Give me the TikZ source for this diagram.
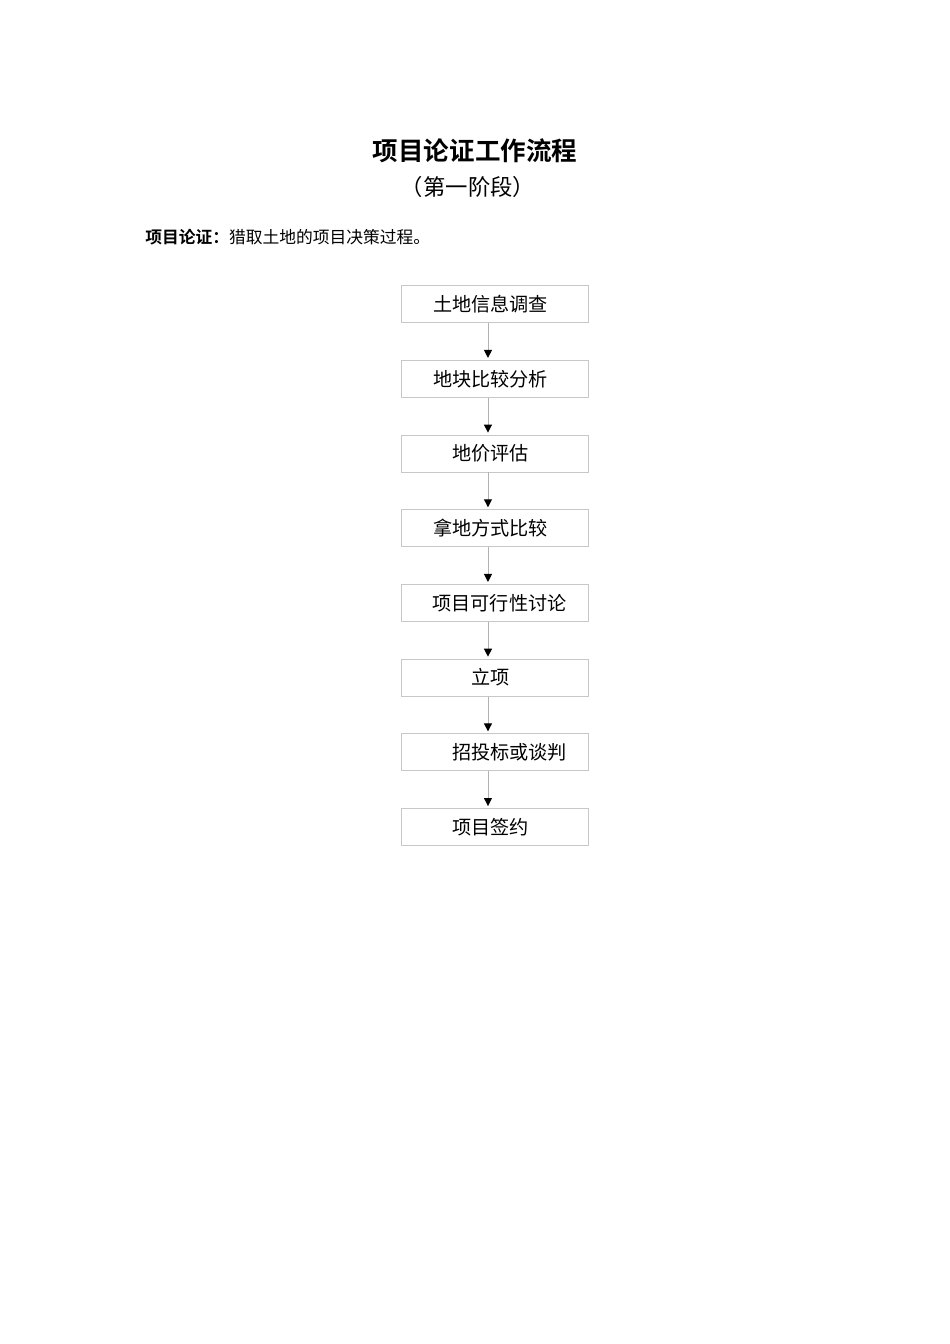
\documentclass[tikz,border=0pt]{standalone}
\usepackage{fontspec}
\setmainfont{Noto Sans CJK SC}[BoldFont={Noto Sans CJK SC Bold}]
\usetikzlibrary{positioning,arrows.meta}
\begin{document}
\begin{tikzpicture}
        [x=0.6266pt, y=-0.6266pt,
        node distance=23.1pt,
        box/.style={rectangle, draw=black!22, line width=0.6pt, minimum width=116.6pt,
          minimum height=23.1pt, inner sep=0pt, font=\fontsize{12pt}{14pt}\selectfont},
        flow/.style={draw=black!30, line width=0.6pt, shorten >=1.3pt,
          -{Triangle[width=5pt,length=5pt,color=black]}},
        ]
        \useasboundingbox (0,0) rectangle (950,1344);
        % heading
        \node[font=\fontsize{16pt}{18pt}\selectfont\bfseries] (title) at (475,151) {项目论证工作流程};
        \node[font=\fontsize{14pt}{16pt}\selectfont] (sub) at (468,187) {（第一阶段）};
        \node[anchor=west, inner sep=0pt, font=\fontsize{10.5pt}{12pt}\selectfont] (intro) at (145,237)
          {\textbf{项目论证：}猎取土地的项目决策过程。};
        % steps
        \node[box] (s1) at (495,304.2) {土地信息调查\hspace*{5.6pt}};
        \node[box, below=of s1] (s2) {地块比较分析\hspace*{5.6pt}};
        \node[box, below=of s2] (s3) {地价评估\hspace*{5.6pt}};
        \node[box, below=of s3] (s4) {拿地方式比较\hspace*{5.6pt}};
        \node[box, below=of s4] (s5) {\hspace*{5.6pt}项目可行性讨论};
        \node[box, below=of s5] (s6) {立项\hspace*{5.6pt}};
        \node[box, below=of s6] (s7) {\hspace*{18.2pt}招投标或谈判};
        \node[box, below=of s7] (s8) {项目签约\hspace*{5.6pt}};
        \foreach \a/\b in {s1/s2,s2/s3,s3/s4,s4/s5,s5/s6,s6/s7,s7/s8}
          \draw[flow] ([xshift=-4.4pt]\a.south) -- ([xshift=-4.4pt]\b.north);
\end{tikzpicture}
\end{document}
